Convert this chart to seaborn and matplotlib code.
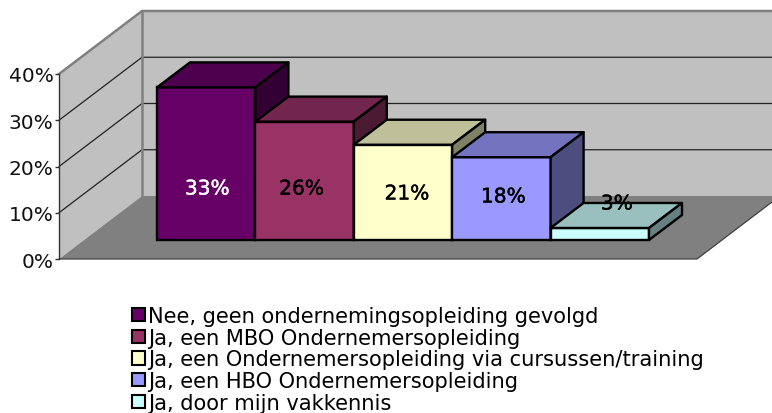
import seaborn as sns
import matplotlib
matplotlib.use('Agg')
import matplotlib.pyplot as plt
import matplotlib.colors as mcolors
import matplotlib.patheffects as pe
from matplotlib.patches import Polygon
import pandas as pd

categories = ['Nee, geen ondernemingsopleiding gevolgd',
              'Ja, een MBO Ondernemersopleiding',
              'Ja, een Ondernemersopleiding via cursussen/training',
              'Ja, een HBO Ondernemersopleiding',
              'Ja, door mijn vakkennis']
values = [33.0, 25.6, 20.6, 17.9, 2.6]
tick_values = [0, 10, 20, 30, 40]
bar_colors = ['#660066', '#993366', '#FFFFCC', '#9999FF', '#CCFFFF']
label_colors = ['white', 'black', 'black', 'black', 'black']

W, H = 772, 414
px_x = 98.4   # pixels per category
px_y = 4.625  # pixels per percent
base_x, base_y = 157, 241  # left edge and baseline of first bar, in pixels


def dx(p):
    return p / px_x


def dy(p):
    return p / px_y


sns.set_theme(style='white')
plt.rcParams['font.family'] = ['DejaVu Sans']
plt.rcParams['text.color'] = 'black'

data = pd.DataFrame({'cat': categories, 'val': values})
fig = plt.figure(figsize=(W / 100, H / 100), dpi=100)
ax = fig.add_axes([0, 0, 1, 1])
sns.barplot(data=data, x='cat', y='val', hue='cat', palette=bar_colors, dodge=False, width=1, saturation=1,
            edgecolor='black', linewidth=1.7, ax=ax, legend=True)
x_left = -0.5 - dx(base_x)
ax.set_xlim(x_left, x_left + dx(W))
ax.set_ylim(-dy(H - base_y), dy(base_y))
ax.set_axis_off()

# box of the chart, in the same units as the bars
front_x, front_y = x_left + dx(59), -dy(19)
back_x, back_y = x_left + dx(142), dy(44)
right = x_left + dx(W)
floor_right = x_left + dx(697)
top = 40

# walls
ax.add_patch(Polygon([(front_x, front_y), (back_x, back_y), (back_x, back_y + top), (front_x, front_y + top)],
                     fc='#C0C0C0', ec='none', zorder=1))
ax.add_patch(Polygon([(back_x, back_y), (right, back_y), (right, back_y + top), (back_x, back_y + top)],
                     fc='#C0C0C0', ec='none', zorder=1))
# floor
ax.add_patch(Polygon([(front_x, front_y), (back_x, back_y), (right, back_y), (right, back_y - dy(6)), (floor_right, front_y)],
                     fc='#808080', ec='none', zorder=1.2))
ax.plot([front_x, floor_right, right], [front_y, front_y, back_y - dy(6)], color='#404040', lw=0.9, zorder=1.3)

# grid lines on the walls
for t in tick_values[1:4]:
    ax.plot([front_x, back_x, right], [front_y + t, back_y + t, back_y + t], color='#222222', lw=0.9, zorder=1.1)
ax.plot([front_x, back_x, right], [front_y + top, back_y + top, back_y + top], color='#808080', lw=1.8, zorder=1.1)
ax.plot([back_x, back_x], [back_y, back_y + top], color='#808080', lw=1.8, zorder=1.1)

# 3d faces of the bars
depth_x, depth_y = dx(33), dy(25)
for i, cont in enumerate(ax.containers):
    bar = cont[0]
    z = 3 + i
    bar.set_zorder(z)
    x0, x1, h = bar.get_x(), bar.get_x() + bar.get_width(), bar.get_height()
    rgb = mcolors.to_rgb(bar_colors[i])
    top_col = tuple(c * 0.75 for c in rgb)
    side_col = tuple(c * 0.5 for c in rgb)
    ax.add_patch(Polygon([(x0, h), (x1, h), (x1 + depth_x, h + depth_y), (x0 + depth_x, h + depth_y)],
                         fc=top_col, ec='black', lw=1.7, joinstyle='round', zorder=z))
    ax.add_patch(Polygon([(x1, 0), (x1 + depth_x, depth_y), (x1 + depth_x, h + depth_y), (x1, h)],
                         fc=side_col, ec='black', lw=1.7, joinstyle='round', zorder=z))

# value labels
label_x = [dx(1), dx(-3), dx(4), dx(2), dx(17)]
label_y = [dy(51), dy(51), dy(46), dy(43), dy(36)]
for i, v in enumerate(values):
    t = ax.text(i + label_x[i], label_y[i], f'{v:.0f}%', color=label_colors[i], fontsize=14.5,
                ha='center', va='center', zorder=20)
    t.set_path_effects([pe.withStroke(linewidth=0.3, foreground=label_colors[i])])

# real axis for the left percentage scale
ax2 = fig.add_axes([59 / W, (H - 260) / H, 1 / W, 185 / H])
ax2.patch.set_visible(False)
ax2.set_ylim(0, top)
ax2.set_yticks(tick_values)
ax2.set_yticklabels([f'{t}%' for t in tick_values], fontsize=14.5, color='#111111')
ax2.set_xticks([])
ax2.tick_params(axis='y', length=3, width=1, color='#333333', pad=1, left=True)
for s in ['top', 'right', 'bottom']:
    ax2.spines[s].set_visible(False)
ax2.spines['left'].set_color('#333333')
ax2.spines['left'].set_linewidth(1)

# legend
leg = ax.legend(loc='upper left', bbox_to_anchor=(132 / W, (H - 307) / H), bbox_transform=fig.transFigure,
                frameon=False, fontsize=15.1, ncol=1, borderpad=0, borderaxespad=0, labelcolor='black',
                handlelength=0.6, handleheight=0.6, handletextpad=0.15, labelspacing=0.08)
leg.set_zorder(30)
for h in leg.get_patches():
    h.set_edgecolor('black')
    h.set_linewidth(1.5)

fig.savefig('out.png', dpi=100)
